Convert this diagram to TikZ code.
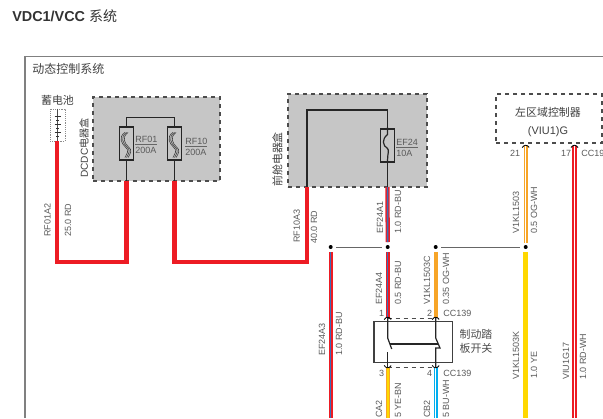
\documentclass[tikz,border=0pt]{standalone}
\usepackage{fontspec}
\setmainfont{Liberation Sans}
\newfontfamily\cjk{Noto Sans CJK SC}
\usetikzlibrary{calc}
\definecolor{wirered}{HTML}{ED1C24}
\definecolor{wireblue}{HTML}{3B6FB5}
\definecolor{wireorange}{HTML}{F7A528}
\definecolor{wireyellow}{HTML}{FFD800}
\definecolor{wirecyan}{HTML}{00AEEF}
\definecolor{labelgray}{HTML}{5A5A5A}
\definecolor{boxgray}{HTML}{C6C6C6}
\tikzset{
  wirelabel/.style={rotate=90, anchor=west, inner sep=0pt, text=labelgray, font=\fontsize{6.75}{7}\selectfont},
  toplabel/.style={inner sep=0pt, text=labelgray, font=\fontsize{6.75}{7}\selectfont},
  cjklabel/.style={inner sep=0pt, align=center, text=black!75, font=\fontsize{8.2}{10}\selectfont\cjk},
  fusebox/.style={draw=black!85, line width=0.9pt, inner sep=0pt, minimum width=10.5pt, minimum height=24.75pt},
  dashbox/.style={draw=black!70, dashed, line width=0.9pt, inner sep=0pt},
  thin wire/.style={draw=black!85, line width=0.9pt},
  link/.style={draw=black!60, line width=0.75pt},
  heavyred/.style={draw=wirered, line width=3.2pt, line join=miter},
  redouter/.style={draw=wirered, line width=3.2pt},
  blueinner/.style={draw=wireblue, line width=1.1pt},
  orangeouter/.style={draw=wireorange, line width=3.2pt},
  yellowinner/.style={draw=wireyellow, line width=1.8pt},
  cyanouter/.style={draw=wirecyan, line width=3.2pt},
  whiteinner/.style={draw=white, line width=0.7pt},
  dot/.style={circle, fill=black, inner sep=0pt, minimum size=3pt}
}
\begin{document}
\begin{tikzpicture}[x=0.75pt, y=-0.75pt]
  \useasboundingbox (0,0) rectangle (603,418);

  \node[anchor=west, inner sep=0pt, text=black!80, font=\fontsize{10.8}{12}\selectfont\bfseries] (title) at (12,16.5) {VDC1/VCC {\mdseries\cjk\fontsize{10.5}{12}\selectfont 系统}};
  \coordinate (framebl) at (25,418);
  \coordinate (frametl) at (25,56.5);
  \coordinate (frametr) at (603,56.5);
  \draw[black!50, line width=1pt] (framebl) -- (frametl) -- (frametr);
  \node[cjklabel, anchor=west, font=\fontsize{9}{10}\selectfont\cjk] (system) at (32,69) {动态控制系统};

  \node[dashbox, fill=boxgray, minimum width=95.25pt, minimum height=63pt] (dcdc) at (156.5,139) {};
  \node[dashbox, fill=boxgray, minimum width=104.25pt, minimum height=69.75pt] (front) at (357.5,140.5) {};
  \node[dashbox, fill=white, minimum width=79.5pt, minimum height=36.75pt] (viu) at (549,118.5) {};

  \node[cjklabel] (batlabel) at (57.5,100) {蓄电池};
  \node[draw=black!45, densely dotted, fill=white, inner sep=0pt, minimum width=11pt, minimum height=24pt] (battery) at (57.5,125) {};
  \draw[black!70, line width=0.4pt] (battery.north) -- (battery.south);
  \foreach \yy/\ww in {116/3, 120/1.5, 124/3, 128/1.5, 132/3, 136/1.5}
    \draw[black!80, line width=0.5pt] (57.5-\ww,\yy) -- (57.5+\ww,\yy);

  \node[cjklabel, rotate=90, anchor=west] (dcdclabel) at (84,178) {\fontsize{7.6}{10}\selectfont{\rmfamily DCDC}电器盒};
  \node[cjklabel, rotate=90, anchor=west] (frontlabel) at (277.5,187) {前舱电器盒};
  \node[cjklabel, align=center, font=\fontsize{8.2}{13}\selectfont\cjk] (viulabel) at (548,122) {左区域控制器\\{\fontsize{8.2}{13}\selectfont\rmfamily (VIU1)G}};

  \node[fusebox] (rf01) at (126.5,143.5) {};
  \node[fusebox] (rf10) at (174.5,143.5) {};
  \node[fusebox] (ef24) at (387.5,145.5) {};
  \coordinate (rf01b) at (126.5,181);
  \coordinate (rf10b) at (174.5,181);
  \coordinate (dcdct1) at (126.5,117.5);
  \coordinate (dcdct2) at (174.5,117.5);
  \coordinate (frontb1) at (307,187);
  \coordinate (frontb2) at (387.5,187);
  \coordinate (frontt1) at (307,110);
  \coordinate (frontt2) at (387.5,110);

  \draw[thin wire] (rf01.north) -- (dcdct1) -- (dcdct2) -- (rf10.north);
  \draw[thin wire] (rf01.south) -- (rf01b);
  \draw[thin wire] (rf10.south) -- (rf10b);
  \draw[thin wire] (frontb1) -- (frontt1) -- (frontt2) -- (ef24.north);
  \draw[thin wire] (ef24.south) -- (frontb2);

  \foreach \fuse in {rf01,rf10}
    \foreach \dx in {-1.6,0,1.6}
      \draw[black!75, line width=0.45pt] ($(\fuse.north)+(\dx,6)$) .. controls ($(\fuse.center)+(\dx-7,-6)$) and ($(\fuse.center)+(\dx-3,0)$) .. ($(\fuse.center)+(\dx,3)$) .. controls ($(\fuse.center)+(\dx+5,7)$) and ($(\fuse.center)+(\dx+2,10)$) .. ($(\fuse.south)+(\dx,-3)$);
  \draw[thin wire, fill=none] ($(ef24.north)+(0,-1)$) -- ($(ef24.north)+(0,6)$) .. controls ($(ef24.center)+(-6,-6)$) and ($(ef24.center)+(-5,0)$) .. ($(ef24.center)+(0,3)$) .. controls ($(ef24.center)+(2,5)$) and ($(ef24.center)+(0,8)$) .. ($(ef24.south)+(0,-2)$) -- (ef24.south);

  \node[toplabel, anchor=west] (rf01name) at (135,139) {RF01};
  \node[toplabel, anchor=west] (rf01amp) at (135,150.5) {200A};
  \node[toplabel, anchor=west] (rf10name) at (185,141) {RF10};
  \node[toplabel, anchor=west] (rf10amp) at (185,152) {200A};
  \node[toplabel, anchor=west] (ef24name) at (396,142) {EF24};
  \node[toplabel, anchor=west] (ef24amp) at (396,153) {10A};
  \draw[black!60, line width=0.5pt] (rf01name.south west) ++(0,2) -- ++(21.5,0);
  \draw[black!60, line width=0.5pt] (rf10name.south west) ++(0,2) -- ++(21.5,0);
  \draw[black!60, line width=0.5pt] (ef24name.south west) ++(0,2) -- ++(21.5,0);

  \coordinate (batb) at (57.3,141);
  \coordinate (bend1) at (57.3,262.3);
  \coordinate (bend2) at (126.5,262.3);
  \coordinate (bend3) at (174.5,262.3);
  \coordinate (bend4) at (307,262.3);
  \draw[heavyred] (batb) -- (bend1) -- (bend2) -- (rf01b);
  \draw[heavyred] (rf10b) -- (bend3) -- (bend4) -- (frontb1);

  \node[dot] (j1) at (330.7,247) {};
  \node[dot] (j2) at (387.7,247) {};
  \node[dot] (j3) at (435.7,247) {};
  \node[dot] (j4) at (525.7,247) {};
  \draw[link] ([xshift=4pt]j1.center) -- ([xshift=-4pt]j2.center);
  \draw[link] ([xshift=4pt]j3.center) -- ([xshift=-4pt]j4.center);

  \node[draw=black!75, line width=0.8pt, inner sep=0pt, minimum width=59pt, minimum height=30.75pt] (switch) at (413.3,342.2) {};
  \coordinate (p1) at (387.7,318);
  \coordinate (p2) at (435.7,318);
  \coordinate (p3) at (387.7,367);
  \coordinate (p4) at (435.7,367);
  \coordinate (p21) at (525.7,146);
  \coordinate (p17) at (574.5,146);
  \coordinate (j2top) at (387.7,242);
  \coordinate (j1low) at (330.7,252);
  \coordinate (j2low) at (387.7,252);
  \coordinate (j3low) at (435.7,252);
  \coordinate (j4top) at (525.7,243);
  \coordinate (j4low) at (525.7,252);
  \coordinate (endl) at (330.7,418);
  \coordinate (end3) at (387.7,418);
  \coordinate (end4) at (435.7,418);
  \coordinate (endy) at (525.7,418);
  \coordinate (endr) at (574.5,418);
  \draw[black!70, dashed, line width=0.7pt] (p1) -- (p2);
  \draw[black!70, dashed, line width=0.7pt] (p3) -- (p4);

  \draw[redouter] (frontb2) -- (j2top);
  \draw[blueinner] (frontb2) -- (j2top);
  \draw[redouter] (j2low) -- (p1);
  \draw[blueinner] (j2low) -- (p1);
  \draw[redouter] (j1low) -- (endl);
  \draw[blueinner] (j1low) -- (endl);
  \draw[orangeouter] (j3low) -- (p2);
  \draw[orangeouter] (p3) -- (end3);
  \draw[yellowinner] (p3) -- (end3);
  \draw[cyanouter] (p4) -- (end4);
  \draw[whiteinner, line width=0.4pt] (p4) -- (end4);
  \draw[orangeouter] (p21) -- (j4top);
  \draw[whiteinner] (p21) -- (j4top);
  \draw[wireyellow, line width=3.4pt] (j4low) -- (endy);
  \draw[redouter] (p17) -- (endr);
  \draw[whiteinner, line width=0.9pt] (p17) -- (endr);

  \foreach \pin in {p1,p2,p21,p17}
    \draw[black, line width=0.6pt] ($(\pin)+(-3.5,1.5)$) .. controls ($(\pin)+(-1.5,-1.5)$) and ($(\pin)+(1.5,-1.5)$) .. ($(\pin)+(3.5,1.5)$);
  \foreach \pin in {p3,p4}
    \draw[black, line width=0.6pt] ($(\pin)+(-3.5,-1.5)$) .. controls ($(\pin)+(-1.5,1.5)$) and ($(\pin)+(1.5,1.5)$) .. ($(\pin)+(3.5,-1.5)$);

  \coordinate (sw1a) at (387.7,338);
  \coordinate (sw1b) at (391.7,349);
  \coordinate (sw1c) at (387.7,352);
  \coordinate (sw2a) at (435.7,338);
  \coordinate (sw2b) at (440,348);
  \coordinate (sw2c) at (435.7,348);
  \draw[thin wire] (p1) -- (sw1a) -- (sw1b);
  \draw[thin wire] (sw1c) -- (p3);
  \draw[thin wire] (p2) -- (sw2a) -- (sw2b) -- (sw2c) -- (p4);
  \coordinate (linka) at (390,344);
  \coordinate (linkb) at (438,344);
  \draw[thin wire] (linka) -- (linkb);

  \node[cjklabel, text=black!70] (swlabel) at (476,341.5) {制动踏\\板开关};

  \node[wirelabel] (l1) at (47.5,237) {RF01A2};
  \node[wirelabel] (l2) at (68,237) {25.0 RD};
  \node[wirelabel] (l3) at (296.7,243) {RF10A3};
  \node[wirelabel] (l4) at (314,244) {40.0 RD};
  \node[wirelabel] (l5) at (380,234) {EF24A1};
  \node[wirelabel] (l6) at (398,234) {1.0 RD-BU};
  \node[wirelabel] (l7) at (516,234) {V1KL1503};
  \node[wirelabel] (l8) at (534,234) {0.5 OG-WH};
  \node[wirelabel] (l9) at (322,356) {EF24A3};
  \node[wirelabel] (l10) at (339,356) {1.0 RD-BU};
  \node[wirelabel] (l11) at (379,305) {EF24A4};
  \node[wirelabel] (l12) at (398,305) {0.5 RD-BU};
  \node[wirelabel] (l13) at (427,305) {V1KL1503C};
  \node[wirelabel] (l14) at (446,305) {0.35 OG-WH};
  \node[wirelabel] (l15) at (516,380) {V1KL1503K};
  \node[wirelabel] (l16) at (534,379) {1.0 YE};
  \node[wirelabel] (l17) at (566,380) {VIU1G17};
  \node[wirelabel] (l18) at (583,380) {1.0 RD-WH};
  \node[wirelabel] (l19) at (379,418) {CA2};
  \node[wirelabel] (l20) at (398,418) {5 YE-BN};
  \node[wirelabel] (l21) at (427,418) {CB2};
  \node[wirelabel] (l22) at (446,418) {5 BU-WH};

  \node[toplabel] (n21) at (515,153) {21};
  \node[toplabel] (n17) at (566,153) {17};
  \node[toplabel, anchor=west] (cc1) at (581,153.5) {CC19};
  \node[toplabel] (n1) at (381.7,313) {1};
  \node[toplabel] (n2) at (429.7,313) {2};
  \node[toplabel, anchor=west] (cc2) at (443,313) {CC139};
  \node[toplabel] (n3) at (381.7,373) {3};
  \node[toplabel] (n4) at (429.7,373) {4};
  \node[toplabel, anchor=west] (cc3) at (443,373) {CC139};
\end{tikzpicture}
\end{document}
